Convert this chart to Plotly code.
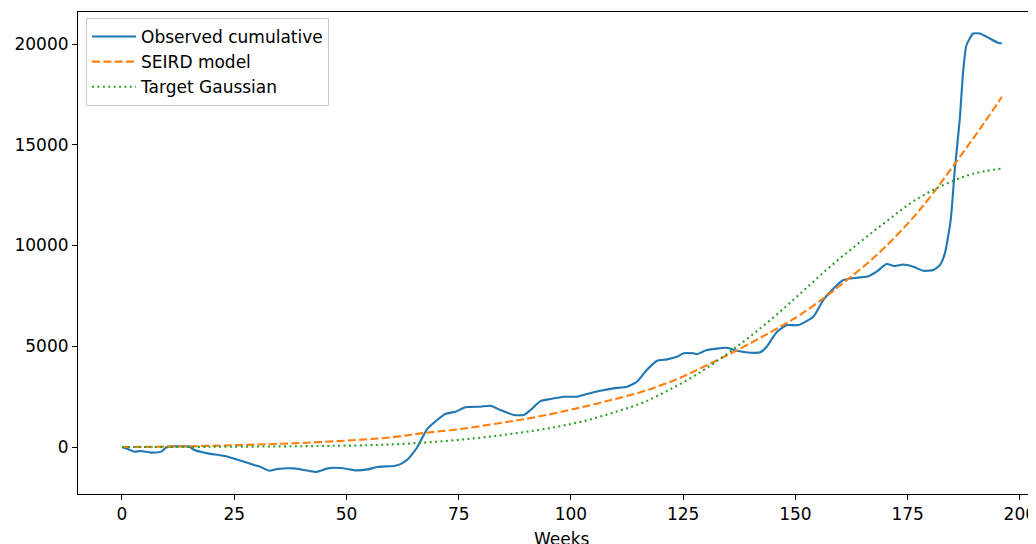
import plotly.graph_objects as go

# Observed cumulative (weeks)
obs_weeks = [0, 1.5, 2.7, 4.2, 6.5, 8.7, 9.8, 11, 13, 15, 16.1, 19.1, 21.5, 23.5, 26.5,
             29.4, 31, 32.8, 34.6, 38.3, 40.6, 43.2, 44.3, 45.8, 48.7, 50.5, 52.1, 54.7,
             56.9, 58.7, 60.6, 62.4, 63.9, 65.0, 65.8, 68, 70.2, 72, 74.3, 76.5, 79.9,
             82.1, 84.3, 87.3, 89.5, 91, 93.2, 95.4, 98.4, 101.4, 103.6, 106.6, 109.5,
             112.5, 114.7, 116.9, 119.2, 121.4, 123.6, 125.1, 127.3, 128.1, 130.3, 134.7,
             137, 139.9, 142.2, 143.6, 145.9, 148.1, 150.7, 154, 156.2, 158.5, 160.7,
             163.7, 166.3, 168.1, 170.3, 172.2, 174, 176.3, 178.5, 180.7, 182.2, 183.3,
             184.6, 185.5, 186.6, 187.4, 188.1, 189.6, 191.1, 193.3, 195.2, 196]
obs_values = [0, -120, -233, -200, -280, -230, -30, 30, 40, 20, -150, -315, -400, -480, -680,
              -890, -1000, -1175, -1090, -1060, -1140, -1240, -1175, -1060, -1040, -1100,
              -1160, -1110, -990, -960, -940, -810, -560, -250, 0, 900, 1340, 1640, 1750,
              1970, 2000, 2050, 1835, 1590, 1590, 1835, 2280, 2380, 2495, 2495, 2630, 2790,
              2910, 2990, 3240, 3820, 4280, 4350, 4480, 4650, 4650, 4610, 4810, 4925, 4775,
              4680, 4700, 4975, 5720, 6050, 6050, 6465, 7290, 7870, 8285, 8400, 8480, 8700,
              9080, 8980, 9060, 8945, 8745, 8780, 9030, 9610, 11260, 13740, 16220, 18700,
              19940, 20520, 20520, 20270, 20055, 20040]

# SEIRD model
seird_weeks = [0, 10, 20, 30, 40, 50, 60, 67, 75, 84, 92, 100, 108, 116, 120, 124, 130,
               137, 146.6, 151, 157, 161, 168, 175.5, 180, 186, 191, 196]
seird_values = [0, 20, 60, 120, 200, 320, 480, 690, 880, 1180, 1480, 1850, 2280, 2750,
                3060, 3400, 4030, 4800, 5970, 6550, 7500, 8200, 9500, 11200, 12400, 14200,
                15750, 17375]

# Target Gaussian
gauss_weeks = [0, 20, 40, 55, 62, 70, 78, 85, 92, 98, 104, 110, 116, 122, 128, 134, 140,
               146, 152, 158, 164, 170, 176, 182, 188, 192, 196]
gauss_values = [0, 10, 40, 90, 150, 260, 420, 600, 820, 1050, 1350, 1750, 2200, 2850, 3600,
                4500, 5500, 6600, 7800, 9000, 10100, 11150, 12150, 12900, 13450, 13680, 13820]

x_ticks = [0, 25, 50, 75, 100, 125, 150, 175, 200]
y_ticks = [0, 5000, 10000, 15000, 20000]

FONT = "DejaVu Sans"
FS = 17

fig = go.Figure()
fig.add_trace(go.Scatter(x=obs_weeks, y=obs_values, mode="lines", name="Observed cumulative",
                         line=dict(color="#1f77b4", width=2.1, shape="spline", smoothing=0.5)))
fig.add_trace(go.Scatter(x=seird_weeks, y=seird_values, mode="lines", name="SEIRD model",
                         line=dict(color="#ff7f0e", width=2.1, dash="8px,3.3px", shape="spline")))
fig.add_trace(go.Scatter(x=gauss_weeks, y=gauss_values, mode="lines", name="Target Gaussian",
                         line=dict(color="#2ca02c", width=2.1, dash="2px,3.4px", shape="spline")))

# The page body adds an 8px offset; the figure is sized so the axes land where the reference has them.
fig.update_layout(
    width=1028, height=536,
    margin=dict(l=70, r=0, t=4, b=50),
    paper_bgcolor="white", plot_bgcolor="white",
    font=dict(family=FONT, size=FS, color="black"),
    showlegend=True,
    legend=dict(x=0.0084, y=0.9876, xanchor="left", yanchor="top",
                bgcolor="rgba(255,255,255,0.8)", bordercolor="#cccccc", borderwidth=1,
                font=dict(family=FONT, size=FS, color="black"),
                tracegroupgap=0, itemwidth=44),
    xaxis=dict(range=[-9.8, 203.6], tickmode="array", tickvals=x_ticks,
               ticktext=[str(v) for v in x_ticks], ticklabeloverflow="allow",
               showgrid=False, zeroline=False, showline=True, linecolor="black",
               linewidth=1.1, mirror=True, ticks="outside", ticklen=5, tickwidth=1.1,
               tickcolor="black", tickfont=dict(family=FONT, size=FS, color="black")),
    yaxis=dict(range=[-2332, 21588], tickmode="array", tickvals=y_ticks,
               ticktext=[str(v) for v in y_ticks],
               showgrid=False, zeroline=False, showline=True, linecolor="black",
               linewidth=1.1, mirror=False, ticks="outside", ticklen=5, tickwidth=1.1,
               tickcolor="black", tickfont=dict(family=FONT, size=FS, color="black")),
    annotations=[dict(text="Weeks", xref="paper", yref="paper", x=0.5052, y=-0.0934,
                      xanchor="center", yanchor="middle", showarrow=False,
                      font=dict(family=FONT, size=FS, color="black"))],
)

fig.write_html("out.html")
